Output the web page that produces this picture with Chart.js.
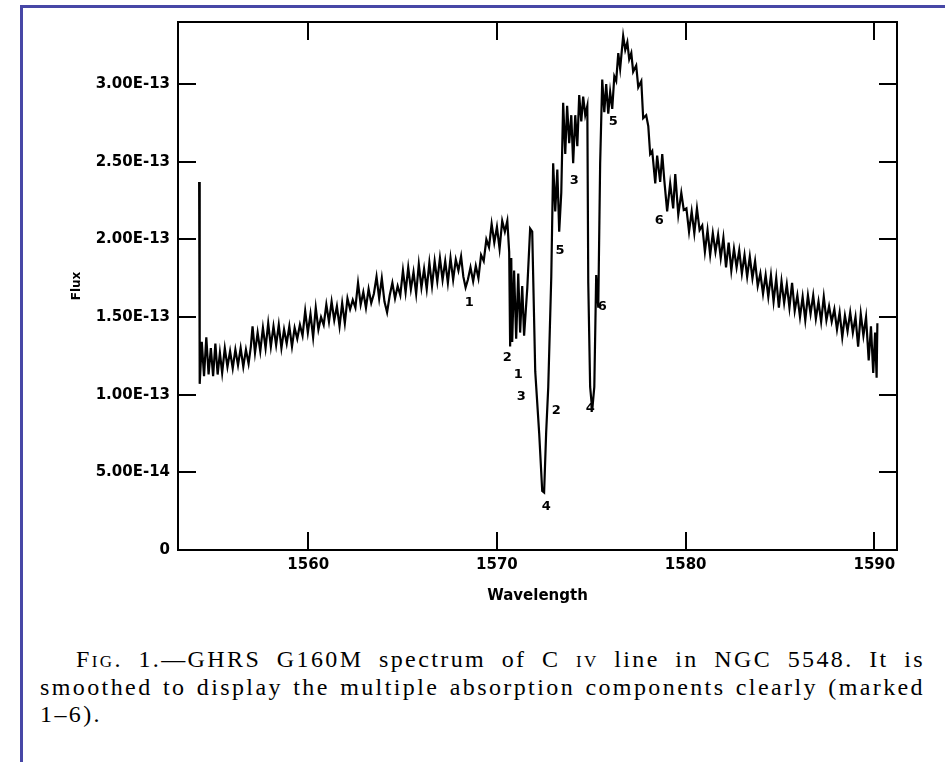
<!DOCTYPE html>
<html>
<head>
<meta charset="utf-8">
<script src="https://cdn.jsdelivr.net/npm/chart.js@4.4.1/dist/chart.umd.min.js"></script>
<style>
  html, body { margin: 0; padding: 0; background: #fff; }
  body { width: 945px; height: 762px; position: relative; overflow: hidden; }
  #frame { position: absolute; left: 20px; top: 5px; right: 0; bottom: 0; border-left: 3px solid #4747a6; border-top: 3px solid #4747a6; }
  #c { position: absolute; left: 0; top: 0; }
  #caption { position: absolute; left: 40px; top: 646px; width: 885px; font-family: "Liberation Serif", serif; font-size: 24px; line-height: 27.5px; letter-spacing: 2.4px; color: #000; }
  #caption .jl { text-align: justify; text-align-last: justify; white-space: nowrap; }
  #caption .first { padding-left: 36px; }
  .sc { font-variant: small-caps; }
</style>
</head>
<body>
<div id="frame"></div>
<canvas id="c" width="945" height="625"></canvas>
<div id="caption">
  <div class="jl first">F<span class="sc">ig</span>. 1.—GHRS G160M spectrum of C <span class="sc">iv</span> line in NGC 5548. It is</div>
  <div class="jl">smoothed to display the multiple absorption components clearly (marked</div>
  <div>1–6).</div>
</div>
<script>
// spectrum, wavelength in Angstrom, flux in units of 1e-13
const wavelength = [
  1554.22, 1554.25, 1554.36, 1554.48, 1554.60, 1554.72, 1554.84, 1554.96, 1555.08, 1555.20,
  1555.32, 1555.44, 1555.58, 1555.72, 1555.86, 1556.00, 1556.14, 1556.28, 1556.42, 1556.56,
  1556.70, 1556.84, 1556.96, 1557.05, 1557.18, 1557.32, 1557.46, 1557.60, 1557.74, 1557.88,
  1558.02, 1558.16, 1558.30, 1558.44, 1558.58, 1558.72, 1558.86, 1559.00, 1559.14, 1559.28,
  1559.42, 1559.56, 1559.70, 1559.84, 1559.98, 1560.12, 1560.26, 1560.40, 1560.54, 1560.68,
  1560.82, 1560.96, 1561.10, 1561.24, 1561.38, 1561.52, 1561.66, 1561.80, 1561.94, 1562.08,
  1562.22, 1562.36, 1562.50, 1562.64, 1562.78, 1562.92, 1563.06, 1563.20, 1563.34, 1563.48,
  1563.62, 1563.76, 1563.90, 1564.04, 1564.18, 1564.32, 1564.46, 1564.60, 1564.74, 1564.88,
  1565.02, 1565.16, 1565.30, 1565.44, 1565.58, 1565.72, 1565.86, 1566.00, 1566.14, 1566.28,
  1566.42, 1566.56, 1566.70, 1566.84, 1566.98, 1567.12, 1567.26, 1567.40, 1567.54, 1567.68,
  1567.82, 1567.96, 1568.10, 1568.22, 1568.34, 1568.46, 1568.60, 1568.74, 1568.88, 1569.02,
  1569.16, 1569.30, 1569.44, 1569.58, 1569.72, 1569.86, 1570.00, 1570.14, 1570.28, 1570.42,
  1570.55,
  1570.65, 1570.70, 1570.76, 1570.81, 1570.91, 1571.02, 1571.13, 1571.23, 1571.34, 1571.44,
  1571.61, 1571.76, 1571.87, 1572.03, 1572.24, 1572.40, 1572.50, 1572.61, 1572.72, 1572.88,
  1572.98, 1573.09, 1573.20, 1573.30, 1573.41, 1573.51, 1573.62, 1573.72, 1573.83, 1573.94,
  1574.04, 1574.15, 1574.26, 1574.36, 1574.47, 1574.57, 1574.68, 1574.79, 1574.84, 1574.94,
  1575.05, 1575.16, 1575.26, 1575.37, 1575.47, 1575.58, 1575.69, 1575.79, 1575.90, 1576.00,
  1576.11, 1576.22, 1576.32, 1576.43, 1576.53, 1576.69, 1576.80, 1576.91, 1577.01, 1577.12,
  1577.22, 1577.38, 1577.49, 1577.65, 1577.75, 1577.91, 1578.02, 1578.12, 1578.23, 1578.39,
  1578.49, 1578.65, 1578.76, 1578.87, 1579.02, 1579.18, 1579.34, 1579.45, 1579.61, 1579.77,
  1579.90, 1580.04, 1580.18, 1580.32, 1580.46, 1580.60, 1580.74, 1580.88, 1581.02, 1581.16,
  1581.30, 1581.44, 1581.58, 1581.72, 1581.86, 1582.00, 1582.14, 1582.28, 1582.42, 1582.56,
  1582.70, 1582.84, 1582.98, 1583.12, 1583.26, 1583.40, 1583.54, 1583.68, 1583.82, 1583.96,
  1584.10, 1584.24, 1584.38, 1584.52, 1584.66, 1584.80, 1584.94, 1585.08, 1585.22, 1585.36,
  1585.50, 1585.64, 1585.78, 1585.92, 1586.06, 1586.20, 1586.34, 1586.48, 1586.62, 1586.76,
  1586.90, 1587.04, 1587.18, 1587.32, 1587.46, 1587.60, 1587.74, 1587.88, 1588.02, 1588.16,
  1588.30, 1588.44, 1588.58, 1588.72, 1588.86, 1589.00, 1589.14, 1589.28, 1589.42, 1589.56,
  1589.70, 1589.82, 1589.94, 1590.04, 1590.12, 1590.16
]
const flux = [
  2.37, 1.07, 1.34, 1.12, 1.37, 1.13, 1.30, 1.12, 1.33, 1.13,
  1.27, 1.14, 1.30, 1.18, 1.28, 1.17, 1.29, 1.19, 1.30, 1.18,
  1.29, 1.20, 1.31, 1.44, 1.27, 1.40, 1.28, 1.43, 1.30, 1.46,
  1.31, 1.44, 1.32, 1.45, 1.30, 1.42, 1.33, 1.44, 1.31, 1.43,
  1.36, 1.45, 1.38, 1.54, 1.40, 1.52, 1.37, 1.56, 1.42, 1.50,
  1.45, 1.58, 1.47, 1.60, 1.48, 1.57, 1.44, 1.59, 1.46, 1.62,
  1.55, 1.61, 1.56, 1.72, 1.58, 1.66, 1.56, 1.68, 1.59, 1.65,
  1.76, 1.62, 1.75, 1.60, 1.53, 1.64, 1.72, 1.62, 1.70, 1.64,
  1.80, 1.66, 1.82, 1.68, 1.79, 1.65, 1.84, 1.69, 1.81, 1.68,
  1.85, 1.70, 1.86, 1.73, 1.88, 1.74, 1.86, 1.72, 1.88, 1.74,
  1.87, 1.80, 1.89, 1.76, 1.69, 1.74, 1.82, 1.73, 1.83, 1.75,
  1.90, 1.86, 2.00, 1.95, 2.10, 1.98, 2.08, 1.94, 2.12, 2.05,
  2.12,
  1.92, 1.31, 1.88, 1.34, 1.80, 1.36, 1.78, 1.40, 1.70, 1.38,
  1.69, 2.07, 2.05, 1.15, 0.75, 0.38, 0.37, 0.76, 1.05, 1.76,
  2.49, 2.18, 2.45, 2.05, 2.30, 2.88, 2.55, 2.86, 2.62, 2.80,
  2.49, 2.80, 2.60, 2.93, 2.76, 2.92, 2.80, 2.86, 1.72, 1.05,
  0.90, 1.05, 1.77, 1.56, 2.49, 3.03, 2.82, 3.00, 2.81, 2.95,
  2.84, 3.05, 3.02, 3.20, 3.10, 3.31, 3.22, 3.27, 3.16, 3.20,
  3.08, 3.12, 2.98, 3.02, 2.78, 2.80, 2.73, 2.55, 2.57, 2.36,
  2.54, 2.37, 2.55, 2.38, 2.18, 2.36, 2.20, 2.42, 2.16, 2.30,
  2.19, 2.20, 2.05, 2.18, 2.04, 2.20, 2.06, 2.09, 1.92, 2.06,
  1.90, 2.04, 1.92, 2.03, 1.88, 2.01, 1.82, 1.98, 1.80, 1.94,
  1.82, 1.93, 1.78, 1.90, 1.76, 1.89, 1.75, 1.86, 1.70, 1.78,
  1.65, 1.77, 1.63, 1.77, 1.60, 1.75, 1.56, 1.73, 1.59, 1.71,
  1.56, 1.72, 1.54, 1.64, 1.50, 1.63, 1.48, 1.64, 1.52, 1.64,
  1.49, 1.60, 1.47, 1.63, 1.48, 1.57, 1.47, 1.55, 1.42, 1.53,
  1.37, 1.51, 1.41, 1.53, 1.40, 1.50, 1.31, 1.52, 1.38, 1.50,
  1.22, 1.44, 1.14, 1.40, 1.11, 1.46
]

const xTicks = [1560, 1570, 1580, 1590]
const xTickLabels = ['1560', '1570', '1580', '1590']
const yTicks = [0, 0.5, 1, 1.5, 2, 2.5, 3]
const yTickLabels = ['0', '5.00E-14', '1.00E-13', '1.50E-13', '2.00E-13', '2.50E-13', '3.00E-13']

// absorption component marks (doublet members), numbered 1-6
const markText = ['1', '1', '2', '2', '3', '3', '4', '4', '5', '5', '6', '6']
const markWave = [1568.53, 1571.13, 1570.55, 1573.14, 1571.29, 1574.10, 1572.61, 1574.94, 1573.35, 1576.16, 1575.58, 1578.60]
const markFlux = [1.59, 1.13, 1.24, 0.90, 0.99, 2.38, 0.28, 0.91, 1.93, 2.76, 1.57, 2.12]

const labelFont = { family: 'DejaVu Sans', size: 15, weight: 'bold' }

const framePlugin = {
    id: 'frame',
    afterDatasetsDraw(chart) {
        const { ctx, chartArea: a, scales: { x, y } } = chart
        ctx.save()
        ctx.strokeStyle = '#000'
        ctx.lineWidth = 2
        ctx.strokeRect(a.left, a.top, a.right - a.left, a.bottom - a.top)
        ctx.beginPath()
        // inward ticks on all four sides
        xTicks.forEach(v => {
            const px = Math.round(x.getPixelForValue(v))
            ctx.moveTo(px, a.bottom); ctx.lineTo(px, a.bottom - 18)
            ctx.moveTo(px, a.top); ctx.lineTo(px, a.top + 18)
        })
        yTicks.forEach(v => {
            const py = Math.round(y.getPixelForValue(v))
            ctx.moveTo(a.left, py); ctx.lineTo(a.left + 18, py)
            ctx.moveTo(a.right, py); ctx.lineTo(a.right - 18, py)
        })
        ctx.stroke()

        ctx.fillStyle = '#000'
        ctx.font = 'bold 13px "DejaVu Sans"'
        ctx.textAlign = 'center'
        ctx.textBaseline = 'middle'
        markText.forEach((t, i) => {
            ctx.fillText(t, x.getPixelForValue(markWave[i]), y.getPixelForValue(markFlux[i]))
        })
        ctx.restore()
    }
}

new Chart(document.getElementById('c'), {
    type: 'line',
    data: {
        datasets: [{
            data: wavelength.map((w, i) => ({ x: w, y: flux[i] })),
            borderColor: '#000',
            borderWidth: 2.2,
            pointRadius: 0,
            tension: 0,
            fill: false
        }]
    },
    options: {
        responsive: false,
        animation: false,
        layout: { padding: { top: 22, right: 48, left: 0, bottom: 0 } },
        plugins: { legend: { display: false }, tooltip: { enabled: false } },
        scales: {
            x: {
                type: 'linear',
                min: 1553.1,
                max: 1591.2,
                border: { display: false },
                grid: { display: false, drawTicks: false },
                afterBuildTicks: s => { s.ticks = xTicks.map(v => ({ value: v })) },
                afterFit: s => { s.height = 75 },
                ticks: {
                    padding: 6,
                    color: '#000',
                    font: labelFont,
                    maxRotation: 0,
                    autoSkip: false,
                    callback: (v, i) => xTickLabels[i]
                },
                title: {
                    display: true,
                    text: 'Wavelength',
                    color: '#000',
                    font: labelFont,
                    padding: { top: 0, bottom: 20 }
                }
            },
            y: {
                min: 0,
                max: 3.4,
                border: { display: false },
                grid: { display: false, drawTicks: false },
                afterBuildTicks: s => { s.ticks = yTicks.map(v => ({ value: v })) },
                afterFit: s => { s.width = 178 },
                ticks: {
                    padding: 8,
                    color: '#000',
                    font: labelFont,
                    autoSkip: false,
                    callback: (v, i) => yTickLabels[i]
                },
                title: {
                    display: true,
                    text: 'Flux',
                    color: '#000',
                    font: { family: 'DejaVu Sans', size: 12, weight: 'bold' },
                    padding: { top: 70, bottom: 0 }
                }
            }
        }
    },
    plugins: [framePlugin]
})
</script>
</body>
</html>
